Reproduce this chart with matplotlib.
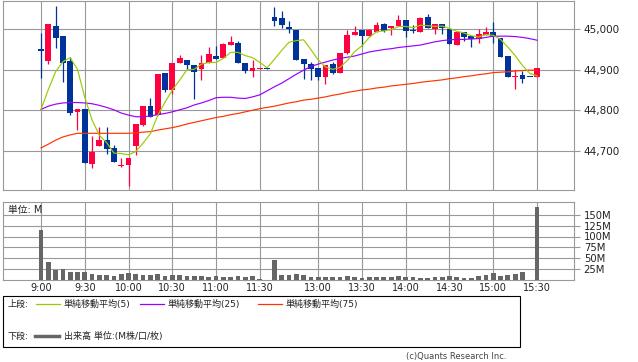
import numpy as np
import matplotlib
matplotlib.use("Agg")
import matplotlib.pyplot as plt
from matplotlib.lines import Line2D
from matplotlib.patches import Rectangle
from matplotlib.ticker import FuncFormatter

plt.rcParams['font.family'] = ['DejaVu Sans', 'Noto Sans CJK JP']

# 5分足 (9:00 - 15:30)
opens = [44951, 44922, 45008, 44983, 44922, 44796, 44803, 44667, 44711, 44726,
         44706, 44663, 44664, 44712, 44763, 44810, 44788, 44891, 44850, 44916,
         44924, 44911, 44901, 44916, 44934, 44928, 44962, 44965, 44916, 44898,
         44901, 44904, 45030, 45027, 45005, 44998, 44926, 44914, 44904, 44883,
         44914, 44891, 44942, 44986, 44998, 44984, 44994, 45013, 45002, 45008,
         45023, 44998, 44994, 45030, 45000, 45013, 45000, 44962, 44993, 44984,
         44975, 44986, 44993, 44978, 44934, 44883, 44887, 44882, 44881]
highs = [44992, 45013, 45058, 44983, 44932, 44803, 44803, 44736, 44759, 44759,
         44715, 44683, 44683, 44766, 44810, 44829, 44890, 44891, 44917, 44937,
         44924, 44911, 44937, 44957, 44959, 44965, 44984, 44970, 44916, 44924,
         44904, 44904, 45056, 45046, 45021, 44998, 44926, 44920, 44904, 44912,
         44919, 44942, 44998, 45007, 44998, 45000, 45019, 45015, 45008, 45035,
         45023, 45011, 45030, 45038, 45013, 45013, 45000, 44993, 44993, 44984,
         45000, 45005, 45018, 44978, 44934, 44899, 44898, 44882, 44904]
lows = [44880, 44915, 44953, 44870, 44788, 44751, 44670, 44658, 44711, 44691,
        44672, 44660, 44614, 44689, 44760, 44784, 44788, 44846, 44840, 44916,
        44901, 44828, 44875, 44916, 44926, 44928, 44962, 44916, 44893, 44883,
        44901, 44902, 45008, 45002, 44992, 44924, 44877, 44875, 44875, 44866,
        44890, 44891, 44939, 44986, 44959, 44984, 44994, 44994, 44985, 45008,
        44980, 44990, 44994, 45002, 44988, 44988, 44964, 44962, 44970, 44957,
        44967, 44986, 44967, 44932, 44883, 44852, 44868, 44881, 44881]
closes = [44947, 45013, 44979, 44916, 44794, 44803, 44670, 44696, 44726, 44705,
          44672, 44665, 44683, 44766, 44810, 44784, 44890, 44850, 44917, 44929,
          44912, 44895, 44917, 44939, 44926, 44964, 44969, 44916, 44898, 44904,
          44904, 44902, 45021, 45011, 45000, 44924, 44914, 44901, 44883, 44912,
          44893, 44942, 44986, 44993, 44984, 44998, 45011, 44997, 45008, 45023,
          44997, 44996, 45027, 45002, 45013, 45002, 44964, 44993, 44982, 44977,
          44988, 44994, 44982, 44932, 44883, 44885, 44876, 44881, 44904]
# 出来高 (M)
volume = [115, 42, 24, 26, 18, 18, 18, 14, 11.5, 11.5,
          9, 14, 16, 14, 11.5, 11.5, 14, 9, 11.5, 11.5,
          9, 9, 9, 7, 9, 7, 7, 9, 7, 9,
          3, 0, 47, 11.5, 11.5, 14, 11.5, 7, 7, 7,
          7, 7, 9, 7, 4.5, 7, 7, 7, 7, 9,
          7, 7, 4.5, 4.5, 7, 7, 9, 7, 4.5, 4.5,
          9, 11.5, 16, 9, 11.5, 14, 18, 1, 167]
# 単純移動平均
sma5 = [44802, 44851, 44895, 44920, 44930, 44901, 44832, 44776, 44738, 44720,
        44694, 44693, 44690, 44698, 44719, 44742, 44787, 44820, 44850, 44874,
        44900, 44901, 44914, 44918, 44918, 44928, 44943, 44943, 44935, 44930,
        44918, 44905, 44926, 44948, 44968, 44972, 44974, 44950, 44924, 44907,
        44901, 44906, 44923, 44945, 44959, 44980, 44994, 44996, 44999, 45007,
        45007, 45004, 45010, 45009, 45007, 45008, 45002, 44995, 44991, 44984,
        44981, 44987, 44985, 44975, 44956, 44935, 44911, 44891, 44885]
sma25 = [44802, 44810, 44815, 44818, 44819, 44819, 44818, 44816, 44812, 44807,
         44801, 44793, 44788, 44784, 44784, 44786, 44789, 44792, 44796, 44801,
         44806, 44813, 44818, 44824, 44831, 44832, 44832, 44830, 44829, 44833,
         44838, 44848, 44858, 44867, 44878, 44889, 44899, 44908, 44914, 44919,
         44924, 44928, 44931, 44934, 44939, 44944, 44947, 44950, 44952, 44955,
         44957, 44959, 44961, 44965, 44969, 44972, 44974, 44975, 44975, 44976,
         44977, 44980, 44983, 44983, 44983, 44982, 44980, 44977, 44973]
sma75 = [44707, 44716, 44726, 44734, 44739, 44743, 44743, 44743, 44743, 44743,
         44743, 44743, 44743, 44744, 44746, 44747, 44751, 44754, 44757, 44761,
         44766, 44770, 44774, 44778, 44782, 44785, 44789, 44792, 44796, 44800,
         44804, 44807, 44810, 44814, 44818, 44821, 44825, 44827, 44830, 44833,
         44837, 44840, 44844, 44847, 44850, 44852, 44855, 44857, 44860, 44862,
         44864, 44866, 44869, 44871, 44873, 44875, 44878, 44880, 44883, 44885,
         44888, 44890, 44893, 44894, 44895, 44897, 44898, 44899, 44899]

tick_pos = [0, 6, 12, 18, 24, 30, 38, 44, 50, 56, 62, 68]
tick_labels = ['9:00', '9:30', '10:00', '10:30', '11:00', '11:30',
               '13:00', '13:30', '14:00', '14:30', '15:00', '15:30']
price_ticks = [44700, 44800, 44900, 45000]
vol_ticks = [25, 50, 75, 100, 125, 150]

RED = '#ff0040'
BLUE = '#003399'
GRID = '#999999'
W, H = 638, 362

def fx(x):
    return x / W

def fy(y):
    return 1 - y / H

fig = plt.figure(figsize=(W / 100, H / 100), dpi=100)
ax = fig.add_axes([fx(3), fy(190), fx(571), 189 / H])
axv = fig.add_axes([fx(3), fy(280), fx(571), 78.3 / H])

x = np.arange(len(closes))
o = np.array(opens, float)
c = np.array(closes, float)
colors = [RED if cc >= oo else BLUE for oo, cc in zip(o, c)]

# ローソク足
ax.vlines(x, lows, highs, colors=colors, lw=0.9, zorder=3)
body_lo = np.minimum(o, c)
body_h = np.maximum(np.abs(c - o), 2.5)
ax.bar(x, body_h, bottom=body_lo, width=0.8, color=colors, linewidth=0, zorder=4)

ax.plot(x, sma75, color='#ff3300', lw=0.85, zorder=5)
ax.plot(x, sma25, color='#9900ff', lw=0.85, zorder=5)
ax.plot(x, sma5, color='#99cc00', lw=0.85, zorder=6)

xlim = (-5.21, 73.07)
for a in (ax, axv):
    a.set_xlim(*xlim)
    a.set_xticks(tick_pos)
    a.grid(True, color=GRID, lw=0.8)
    a.set_axisbelow(True)
    for s in a.spines.values():
        s.set_color(GRID)
        s.set_linewidth(0.8)
    a.yaxis.tick_right()
    a.tick_params(axis='y', length=4.5, width=0.8, color=GRID, pad=2.5,
                  labelsize=7.5, labelcolor='#222222')

ax.set_ylim(44602.9, 45069.9)
ax.set_yticks(price_ticks)
ax.yaxis.set_major_formatter(FuncFormatter(lambda v, p: f'{v:,.0f}'))
ax.tick_params(axis='x', length=0, labelbottom=False)

# 出来高
axv.bar(x, volume, width=0.65, color='#666666', linewidth=0, zorder=3)
axv.set_ylim(0, 180)
axv.set_yticks(vol_ticks)
axv.yaxis.set_major_formatter(FuncFormatter(lambda v, p: f'{v:.0f}M'))
axv.tick_params(axis='y', labelsize=7.2)
axv.set_xticklabels(tick_labels)
axv.tick_params(axis='x', length=0, pad=2, labelsize=7, labelcolor='#222222')
fig.text(fx(8), fy(210), '単位: M', fontsize=7, va='center', ha='left', color='#222222')

# 凡例
fig.add_artist(Rectangle((fx(3), fy(347)), fx(517), 51 / H, transform=fig.transFigure,
                         fill=False, edgecolor='black', lw=0.8))
row1, row2 = fy(304), fy(336)
fig.text(fx(8), row1, '上段:', fontsize=6.5, va='center', color='#222222')
for x0, col, lab in [(36, '#99cc00', '単純移動平均(5)'),
                     (140, '#9900ff', '単純移動平均(25)'),
                     (258, '#ff3300', '単純移動平均(75)')]:
    fig.add_artist(Line2D([fx(x0), fx(x0 + 24)], [row1, row1], color=col, lw=0.9,
                          transform=fig.transFigure))
    fig.text(fx(x0 + 28), row1, lab, fontsize=6.5, va='center', color='#222222')
fig.text(fx(8), row2, '下段:', fontsize=6.5, va='center', color='#222222')
fig.add_artist(Line2D([fx(35), fx(59)], [row2, row2], color='#666666', lw=2.5,
                      transform=fig.transFigure))
fig.text(fx(64), row2, '出来高 単位:(M株/口/枚)', fontsize=6.5, va='center', color='#222222')

fig.text(fx(506), fy(357), '(c)Quants Research Inc.', fontsize=6, ha='right',
         va='center', color='#444444')

fig.savefig('out.png', dpi=100)
